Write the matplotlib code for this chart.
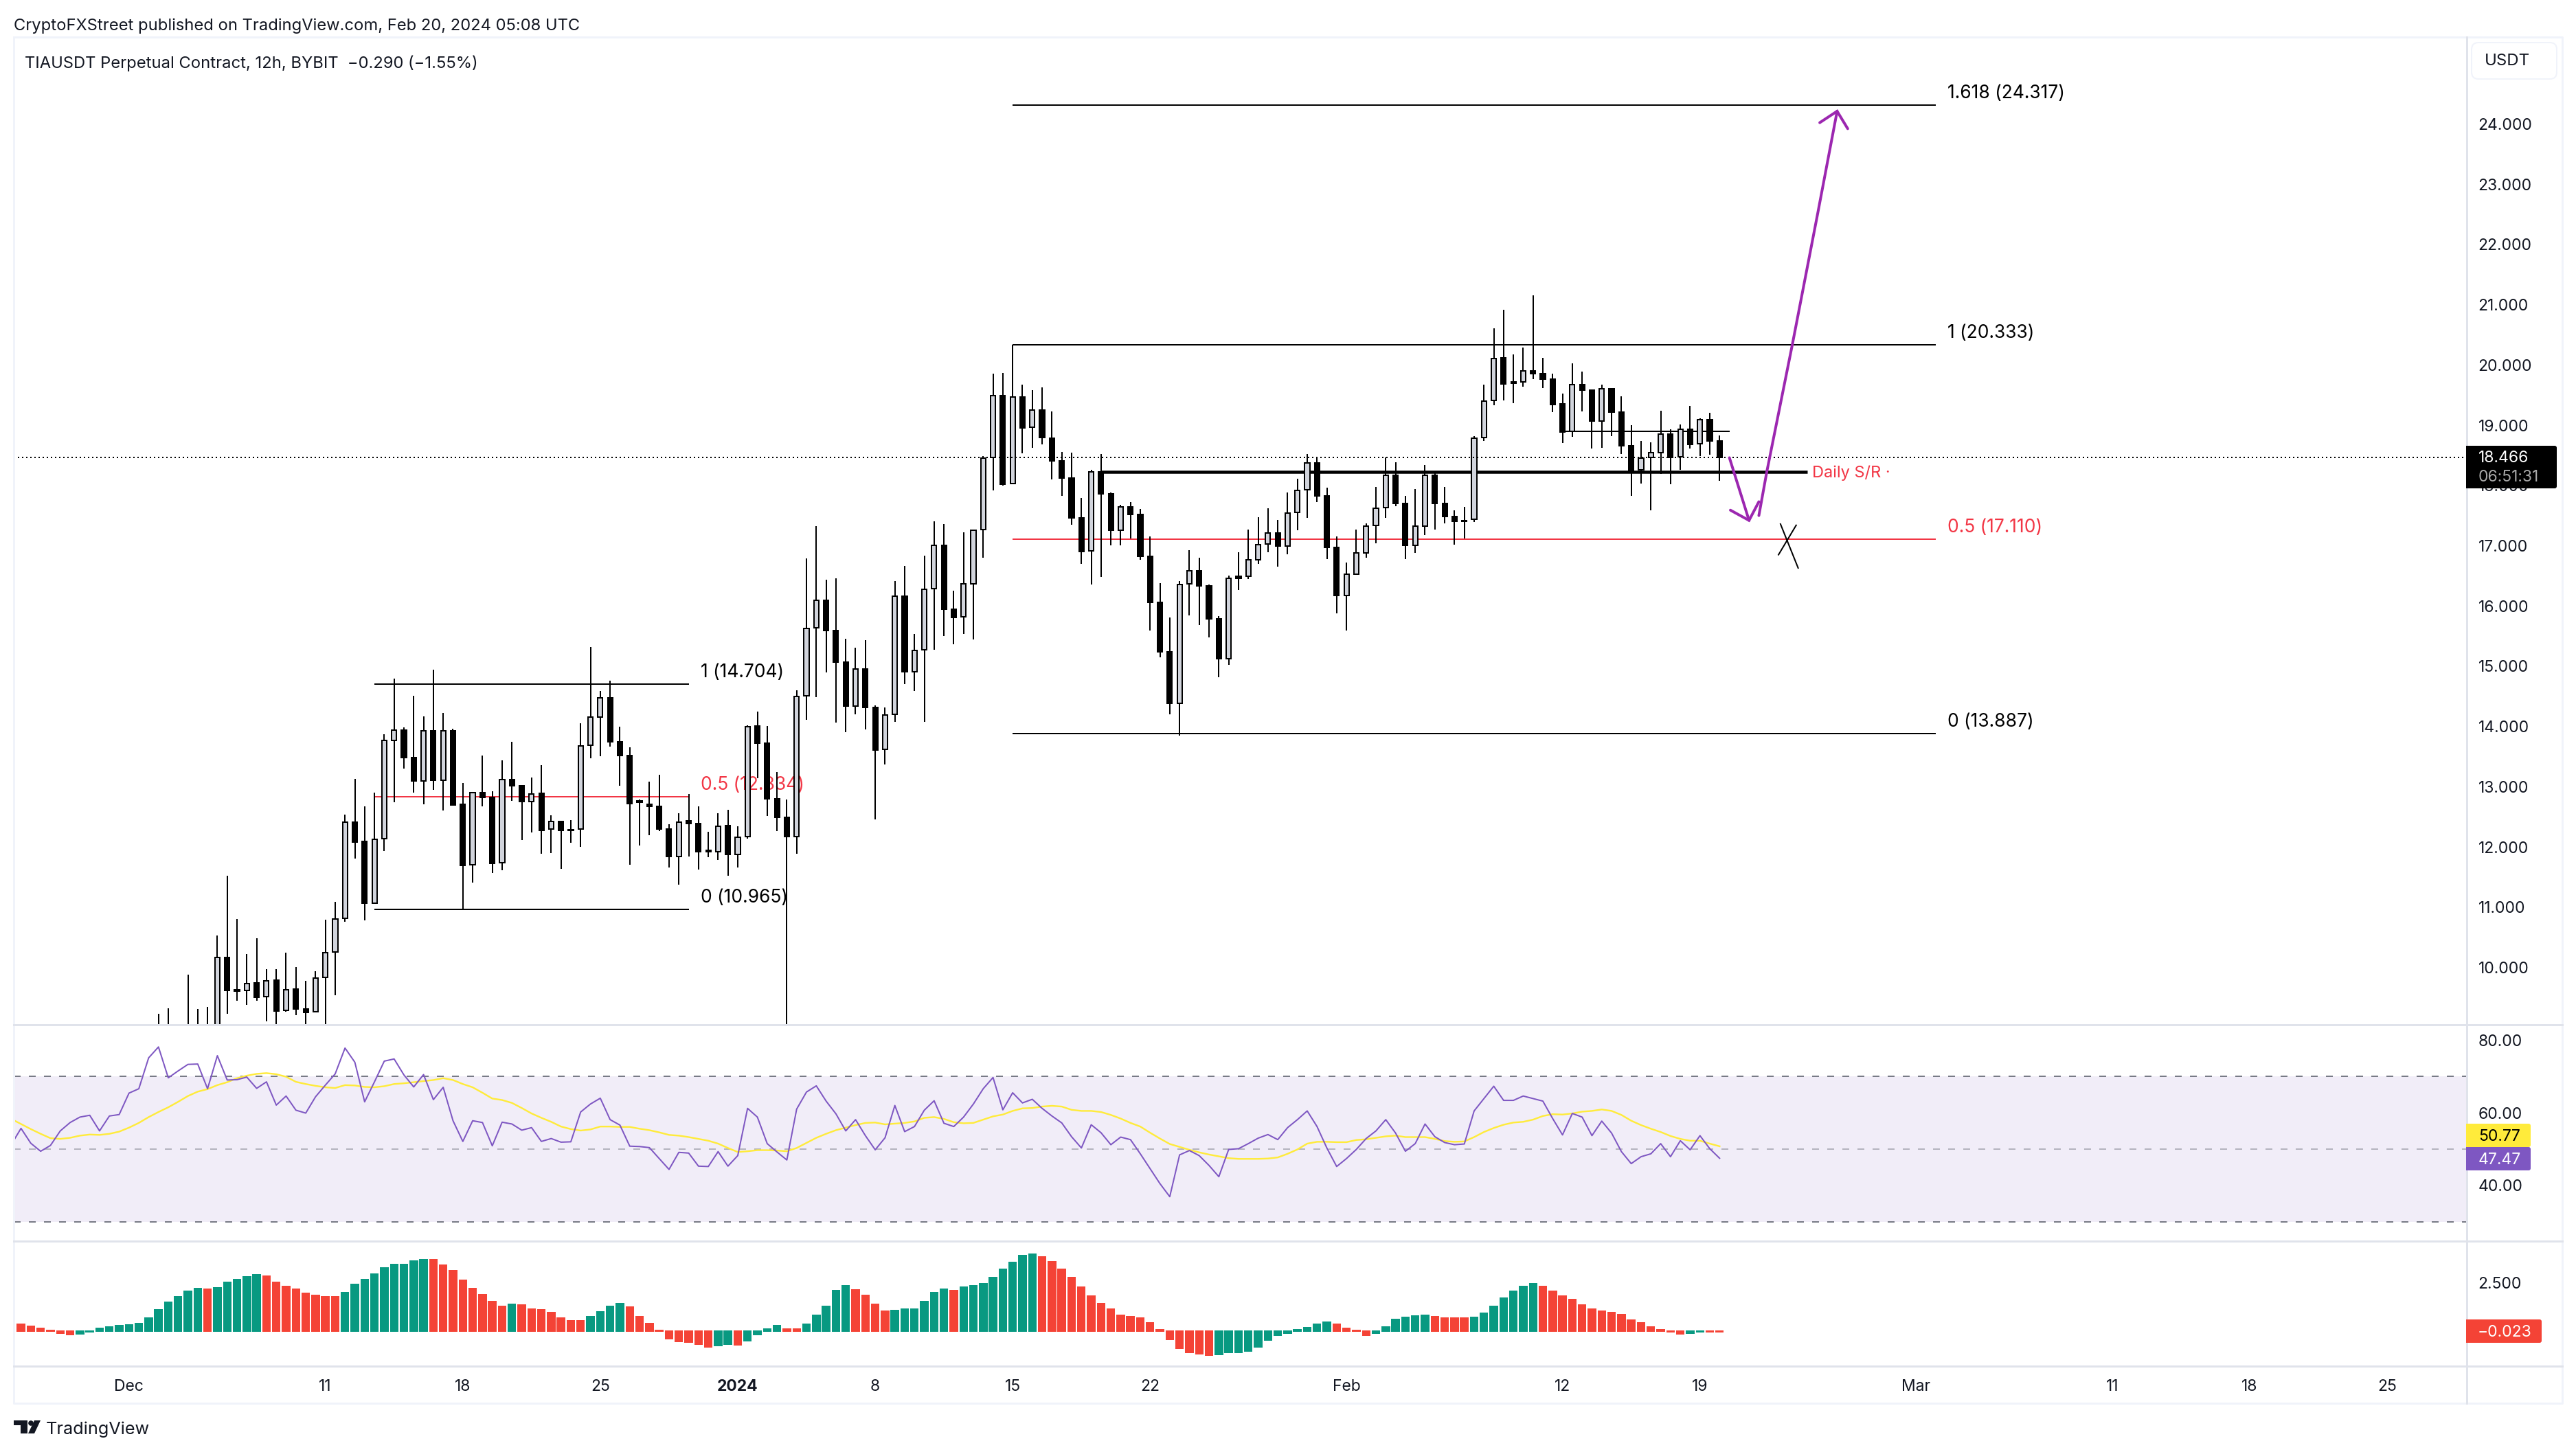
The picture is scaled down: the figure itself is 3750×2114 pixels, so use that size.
import numpy as np
import matplotlib
matplotlib.use("Agg")
import matplotlib.pyplot as plt
from matplotlib.patches import FancyBboxPatch, Polygon, Circle

# ---------- candles (12h bars, bar 0 is the first one whose wick shows) ----------
opens = [8.60,8.75,8.90,8.70,8.85,8.80,8.95,10.165,9.63,9.624,9.741,9.516,9.787,9.286,9.638,9.317,9.263,9.836,10.256,10.815,
12.411,12.091,11.067,12.141,13.774,13.941,13.485,13.097,13.932,13.111,13.932,12.714,11.703,12.908,12.827,11.735,13.115,13.016,12.754,12.89,
12.294,12.428,12.29,12.30,13.691,14.157,14.477,13.744,13.516,12.75,12.71,12.67,12.294,11.846,12.43,12.388,11.93,11.922,12.352,11.875,
12.178,14.006,13.72,12.80,12.492,12.178,14.506,15.635,16.095,15.595,15.071,14.343,14.954,14.314,13.616,14.198,16.165,14.914,15.269,16.293,
17.009,15.944,15.816,16.369,17.265,18.464,19.495,18.028,19.465,18.965,19.256,18.784,18.412,18.127,17.463,16.91,18.225,17.862,17.26,17.649,
17.522,16.823,16.059,15.238,14.386,16.365,16.587,16.334,15.788,15.125,16.496,16.496,16.771,17.024,17.212,16.998,17.548,17.924,18.378,17.828,
16.972,16.177,16.531,16.884,17.334,17.627,18.172,17.705,17.011,17.33,18.172,17.705,17.487,17.42,17.435,18.793,19.41,20.113,19.71,19.715,
19.903,19.851,19.768,19.353,18.894,19.676,19.576,19.073,19.61,19.222,18.663,18.257,18.462,18.549,18.855,18.475,18.934,18.694,19.095,18.741]
highs = [9.231,9.322,9.00,9.881,9.312,9.348,10.535,11.527,10.80,10.219,10.481,9.971,9.971,10.247,10.007,9.777,9.94,10.792,11.09,12.542,
13.133,12.678,12.908,13.873,14.798,13.99,14.509,14.171,14.937,14.229,13.963,13.061,12.899,13.517,12.926,13.435,13.747,13.02,13.151,13.359,
12.527,12.44,12.452,14.058,15.315,14.588,14.762,14.0,13.65,12.79,13.08,13.196,12.38,12.556,12.876,12.673,12.254,12.556,12.615,12.34,
14.023,14.244,14.012,13.243,12.79,14.605,16.788,17.323,16.433,16.456,15.455,15.304,15.437,14.349,14.314,16.41,16.66,15.531,16.84,17.399,
17.358,16.258,17.224,17.271,18.493,19.855,19.861,20.33,19.669,19.582,19.628,19.227,18.552,18.54,17.789,18.26,18.518,17.88,17.679,17.727,
17.614,17.155,16.374,15.81,16.413,16.928,16.806,16.36,15.828,16.50,16.897,17.264,17.478,17.618,17.422,17.88,18.116,18.518,18.47,17.959,
17.155,16.723,17.264,17.365,17.972,18.47,18.382,17.823,17.945,18.334,18.208,17.98,17.583,17.64,18.823,19.67,20.602,20.916,20.178,20.283,
21.156,20.121,19.851,19.523,20.025,19.89,19.576,19.676,19.61,19.484,19.004,18.737,18.711,19.244,18.929,19.017,19.318,19.117,19.20,18.825]
lows = [8.40,8.50,8.55,8.60,8.70,8.60,8.70,9.232,9.444,9.376,9.444,9.11,8.90,9.27,9.204,8.95,9.263,8.90,9.543,10.756,
11.812,10.779,11.06,11.938,12.741,13.3,12.908,12.705,12.953,12.601,12.691,10.959,11.406,12.669,11.564,11.609,12.763,12.114,12.236,11.893,
11.904,11.642,12.067,11.997,13.47,13.505,13.662,13.016,11.7,12.02,12.195,12.265,11.66,11.38,11.84,11.625,11.83,11.782,11.52,11.66,
12.137,13.138,12.515,12.265,8.90,11.887,14.11,14.489,14.896,14.07,13.907,14.198,13.953,12.463,13.371,14.081,14.698,14.593,14.081,15.269,
15.496,15.362,15.53,15.449,16.805,17.92,17.998,18.028,18.528,18.621,18.68,18.103,17.83,17.352,16.70,16.357,16.478,17.002,17.002,17.116,
16.766,15.592,15.146,14.207,13.85,15.841,15.683,15.474,14.814,15.02,16.26,16.448,16.697,16.897,16.657,16.854,17.251,17.461,17.723,16.775,
15.876,15.592,16.513,16.801,17.042,17.461,17.657,16.775,16.88,17.177,17.269,17.369,17.015,17.116,17.395,18.74,19.327,19.414,19.366,19.641,
19.768,19.619,19.217,18.702,18.807,19.226,18.615,18.624,18.82,18.523,17.829,18.034,17.589,18.191,18.021,18.257,18.615,18.484,18.506,18.078]
closes = [8.75,8.90,8.70,8.85,8.80,8.95,10.165,9.624,9.61,9.737,9.511,9.782,9.281,9.633,9.317,9.259,9.827,10.251,10.81,12.407,
12.087,11.063,12.132,13.765,13.936,13.48,13.093,13.923,13.106,13.923,12.70,11.699,12.899,12.818,11.726,13.115,13.011,12.75,12.885,12.281,
12.422,12.271,12.27,13.68,14.151,14.471,13.744,13.516,12.719,12.74,12.67,12.294,11.84,12.417,12.39,11.922,11.92,12.347,11.875,12.166,
14.0,13.72,12.80,12.492,12.178,14.494,15.624,16.09,15.595,15.071,14.337,14.949,14.314,13.604,14.186,16.159,14.908,15.257,16.281,17.003,
15.944,15.81,16.363,17.254,18.453,19.489,18.016,19.465,18.959,19.25,18.796,18.412,18.127,17.463,16.904,18.22,17.862,17.256,17.644,17.518,
16.823,16.059,15.238,14.382,16.356,16.583,16.33,15.784,15.12,16.456,16.456,16.766,17.015,17.207,16.994,17.539,17.915,18.373,17.828,16.972,
16.173,16.526,16.88,17.321,17.618,18.168,17.701,17.007,17.321,18.168,17.701,17.483,17.404,17.40,18.784,19.40,20.108,19.689,19.70,19.903,
19.851,19.768,19.344,18.89,19.672,19.576,19.069,19.606,19.222,18.659,18.23,18.458,18.541,18.851,18.462,18.934,18.685,19.091,18.741,18.466]

# ---------- RSI panel ----------
rsi = [51.2,55.7,51.6,49.4,51.0,55.0,57.3,58.8,59.3,55.0,59.1,59.5,65.4,66.6,75.1,
78.1,69.6,71.5,73.3,73.4,66.6,75.7,69.0,69.1,69.8,66.7,68.5,62.1,64.6,60.7,59.9,64.4,67.6,70.7,77.8,73.9,63.0,68.5,74.2,74.8,
70.4,67.1,70.5,63.6,67.0,57.8,52.1,57.8,57.3,50.9,57.4,56.9,55.2,55.9,52.1,52.9,51.9,52.0,60.2,62.4,64.0,58.1,56.6,50.8,50.7,
50.4,47.4,44.4,49.1,48.9,45.3,45.2,49.3,45.3,48.2,61.2,58.8,51.5,49.2,47.0,61.0,65.7,67.4,63.2,59.7,55.0,58.1,53.7,49.8,53.1,
62.0,54.8,56.2,60.7,63.3,57.1,56.2,58.8,62.4,66.6,69.7,60.8,65.5,62.7,63.7,61.2,59.1,57.2,53.4,50.3,56.7,54.5,51.2,53.3,52.6,
48.7,44.6,40.5,36.9,48.4,49.6,48.2,45.5,42.4,49.9,50.1,51.5,53.0,54.0,52.6,55.9,58.1,60.5,56.2,50.3,45.2,47.4,49.9,52.9,55.0,
58.1,54.4,49.4,51.5,56.9,53.4,51.8,51.2,51.4,60.5,63.9,67.3,63.4,63.4,64.6,63.9,63.2,58.4,53.9,59.8,58.8,53.7,57.7,54.4,49.3,
46.0,47.9,48.7,51.5,47.9,52.3,49.8,53.7,50.1,47.47]
rsi_ma = [58.3,56.9,55.5,54.2,53.0,52.8,53.1,53.7,54.0,53.9,54.2,54.8,55.9,57.2,58.8,
60.2,61.5,63.0,64.6,65.8,66.5,67.6,68.4,69.5,70.2,70.7,70.9,70.6,69.9,68.5,67.9,67.4,67.0,66.8,67.6,67.5,67.1,67.0,67.3,67.9,
68.1,68.4,68.7,69.0,69.5,69.0,67.9,67.0,65.5,63.9,63.5,62.7,61.3,59.8,58.6,57.5,56.2,55.5,55.1,55.4,56.2,56.2,56.1,56.1,55.6,
55.2,54.6,53.9,53.7,53.3,52.8,52.3,51.5,50.3,49.2,49.4,49.7,49.7,49.6,49.4,50.3,51.7,53.1,54.2,55.2,55.9,56.6,57.2,57.3,56.8,
57.0,57.2,57.6,58.6,58.8,58.3,57.4,57.1,57.2,58.1,59.0,59.5,60.5,61.2,61.3,61.7,61.9,61.7,60.8,60.5,60.5,60.2,59.4,58.4,57.2,
56.2,54.5,52.9,51.4,50.6,49.8,49.1,48.5,48.0,47.5,47.3,47.3,47.3,47.4,47.7,48.7,49.9,51.5,52.0,52.0,51.9,51.9,52.5,52.7,53.1,
53.5,53.7,53.3,53.3,53.3,52.8,52.2,52.0,52.1,53.3,54.7,55.8,56.7,57.3,57.5,58.1,59.1,59.6,59.5,59.8,60.3,60.5,60.9,60.5,59.4,
57.8,56.6,55.6,54.7,53.6,52.8,52.3,52.3,51.5,50.77]
rsi_levels = [70, 50, 30]

# ---------- MACD histogram panel ----------
macd_hist = [.53,.36,.25,.14,.04,-.11,-.18,-.14,-.04,.14,.21,.28,.32,.39,.68,
1.10,1.49,1.78,2.06,2.20,2.17,2.24,2.52,2.67,2.81,2.91,2.84,2.52,2.31,2.17,1.95,1.85,1.78,1.78,1.99,2.42,2.67,2.95,3.27,3.45,
3.45,3.63,3.70,3.70,3.41,3.13,2.63,2.20,1.88,1.53,1.28,1.39,1.35,1.14,1.10,.96,.68,.53,.53,.75,1.00,1.28,1.42,1.24,.75,
.39,.04,-.39,-.53,-.57,-.68,-.82,-.75,-.68,-.71,-.50,-.18,.11,.28,.11,.11,.36,.82,1.28,2.10,2.35,2.13,1.85,1.39,1.03,
1.07,1.14,1.14,1.53,1.99,2.17,2.10,2.27,2.35,2.45,2.77,3.20,3.55,3.91,3.98,3.84,3.59,3.20,2.77,2.27,1.81,1.42,1.14,.82,.75,
.68,.43,.07,-.43,-.89,-1.10,-1.17,-1.24,-1.21,-1.10,-1.10,-1.03,-.82,-.46,-.21,-.11,.07,.18,.36,.46,.36,.14,.04,-.21,-.11,
.21,.60,.71,.78,.82,.75,.68,.68,.68,.71,.92,1.28,1.71,2.06,2.31,2.45,2.31,2.06,1.81,1.64,1.35,1.14,1.03,.96,.85,.57,
.43,.21,.07,-.04,-.14,-.11,-.04,-.023,-.023]
# alternating run lengths of bars, starting with a falling run
macd_dir_runs = [7,13,1,5,8,9,8,1,7,4,9,2,1,4,2,5,4,6,1,8,18,12,4,6,4,7,15,2,2]

# ---------- axes labels ----------
price_ticks = [10,11,12,13,14,15,16,17,18,19,20,21,22,23,24]
rsi_ticks = [40, 60, 80]
macd_ticks = [2.5]
time_tick_bars = [-3,17,31,45,59,73,87,101,121,143,157,179,199,213,227]
time_tick_labels = ["Dec","11","18","25","2024","8","15","22","Feb","12","19","Mar","11","18","25"]

# ---------- drawings ----------
fib_left = {"start": 22, "end": 54, "levels": [(1, 14.704), (0.5, 12.834), (0, 10.965)]}
fib_right = {"start": 87, "end": 181.04, "levels": [(1.618, 24.317), (1, 20.333), (0.5, 17.110), (0, 13.887)]}
sr_level, sr_start, sr_end = 18.225, 96, 167.9
range_level, range_start, range_end = 18.899, 143, 160
last_price = 18.466
arrow_down_bar = [160.0, 162.0]; arrow_down_price = [18.46, 17.42]
head_down_bar = [160.1, 162.0, 163.0]; head_down_price = [17.59, 17.42, 17.73]
arrow_up_bar = [163.0, 163.8, 166.4, 169.0, 170.97]; arrow_up_price = [17.5, 18.22, 20.33, 22.52, 24.21]
head_up_bar = [169.2, 170.97, 172.05]; head_up_price = [24.02, 24.21, 23.92]
cross_a_bar = [165.2, 167.0]; cross_a_price = [17.36, 16.63]
cross_b_bar = [166.8, 165.0]; cross_b_price = [17.34, 16.85]

W, H = 3750, 2114
DPI = 100
px = 72 / DPI
INK = "#131722"
FRAME = "#f0f3fa"
SEP = "#e0e3eb"
RED = "#f23645"
plt.rcParams["font.family"] = ["Inter", "DejaVu Sans"]
FS = 16.5
FS_FIB = 19
FS_HEAD = 17.1

fig = plt.figure(figsize=(W / DPI, H / DPI), dpi=DPI, facecolor="white")

def pane(l, t, r, b):
    a = fig.add_axes([l / W, 1 - b / H, (r - l) / W, (b - t) / H])
    for s in a.spines.values():
        s.set_visible(False)
    a.set_xlim(-14.74, 235.1)
    a.set_xticks([])
    a.yaxis.tick_right()
    a.tick_params(axis="y", length=0, pad=12, labelsize=FS, labelcolor=INK)
    a.patch.set_alpha(0)
    return a

ax = pane(20, 54, 3591, 1492)
ax_rsi = pane(20, 1492, 3591, 1807)
ax_macd = pane(20, 1807, 3591, 1989)
ax.set_ylim(9.05, 25.44)
ax_rsi.set_ylim(24.67, 84.2)
ax_macd.set_ylim(-1.81, 4.66)

# main pane
o, h, l, c = map(np.array, (opens, highs, lows, closes))
bars = np.arange(len(o))
up = c >= o
ax.vlines(bars, l, h, color="black", lw=2 * px, zorder=4)
bottoms = np.minimum(o, c)
heights = np.maximum(np.abs(c - o), 0.02)
ax.bar(bars[up], heights[up], bottom=bottoms[up], width=0.5, facecolor="#d1d4dc",
       edgecolor="black", linewidth=2 * px, zorder=5)
ax.bar(bars[~up], heights[~up], bottom=bottoms[~up], width=0.5, facecolor="black",
       edgecolor="black", linewidth=2 * px, zorder=5)

def fib(a, spec, xtext):
    for lev, val in spec["levels"]:
        col = RED if lev == 0.5 else "black"
        a.hlines(val, spec["start"], spec["end"], color=col, lw=2 * px, zorder=2)
        a.annotate(f"{lev:g} ({val:.3f})", xy=(xtext, val), xytext=(0, 17 * px),
                   textcoords="offset points", color=col, fontsize=FS_FIB, va="center", ha="left", zorder=3)

fib(ax, fib_left, 55.2)
fib(ax, fib_right, 182.2)
ax.hlines(sr_level, sr_start, sr_end, color="black", lw=4.5 * px, zorder=2)
ax.hlines(range_level, range_start, range_end, color="black", lw=2 * px, zorder=3)
ax.annotate("Daily S/R", xy=(sr_end, sr_level), xytext=(7 * px, -2 * px), textcoords="offset points",
            color=RED, fontsize=17, va="center", ha="left", zorder=3)
ax.annotate("\u00b7", xy=(sr_end, sr_level), xytext=(114 * px, -2 * px), textcoords="offset points",
            color=RED, fontsize=FS, va="center", ha="left", zorder=3)
ax.axhline(last_price, color="black", lw=2 * px, linestyle=(0, (1, 2)), zorder=6)

PUR = "#9c27b0"
for bx, by in ((arrow_down_bar, arrow_down_price), (head_down_bar, head_down_price),
               (arrow_up_bar, arrow_up_price), (head_up_bar, head_up_price)):
    ax.plot(bx, by, color=PUR, lw=4 * px, solid_capstyle="round", solid_joinstyle="miter", zorder=7)
for bx, by in ((cross_a_bar, cross_a_price), (cross_b_bar, cross_b_price)):
    ax.plot(bx, by, color="black", lw=2 * px, zorder=7)

ax.set_yticks(price_ticks)
ax.set_yticklabels([f"{t:.3f}" for t in price_ticks])

# RSI pane
xr = np.arange(160 - len(rsi), 160)
xm = np.arange(160 - len(rsi_ma), 160)
ax_rsi.axhspan(rsi_levels[2], rsi_levels[0], color="#7e57c2", alpha=0.1, lw=0, zorder=1)
for lev, al in zip(rsi_levels, (1, 0.5, 1)):
    ax_rsi.axhline(lev, color="#787b86", alpha=al, lw=2 * px, linestyle=(0, (5, 6)), zorder=2)
ax_rsi.plot(xm, rsi_ma, color="#ffeb3b", lw=2.4 * px, zorder=3)
ax_rsi.plot(xr, rsi, color="#7e57c2", lw=2 * px, zorder=4)
ax_rsi.set_yticks(rsi_ticks)
ax_rsi.set_yticklabels([f"{t:.2f}" for t in rsi_ticks])

# MACD pane
xh = np.arange(160 - len(macd_hist), 160)
flags = [i % 2 for i in range(len(macd_dir_runs))]
rising = np.repeat(flags, macd_dir_runs)[-len(macd_hist):].astype(bool)
vals = np.array(macd_hist)
ax_macd.bar(xh[rising], vals[rising], width=0.728, color="#089981", edgecolor="#089981", lw=2 * px)
ax_macd.bar(xh[~rising], vals[~rising], width=0.728, color="#f44336", edgecolor="#f44336", lw=2 * px)
ax_macd.set_yticks(macd_ticks)
ax_macd.set_yticklabels([f"{t:.3f}" for t in macd_ticks])
ax_macd.set_xticks(time_tick_bars)
ax_macd.set_xticklabels(time_tick_labels)
ax_macd.tick_params(axis="x", length=0, pad=13.5, labelsize=FS, labelcolor=INK)
ax_macd.get_xticklabels()[4].set_fontweight("bold")

# page furniture drawn in a pixel-space overlay
ui = fig.add_axes([0, 0, 1, 1], zorder=20)
ui.set_xlim(0, W); ui.set_ylim(H, 0); ui.axis("off")
ui.patch.set_alpha(0)
ui.plot([19.5, 3730, 3730, 19.5, 19.5], [54, 54, 2043, 2043, 54], color=FRAME, lw=3 * px)
ui.plot([3591, 3591], [54, 2043], color=SEP, lw=3 * px)
for y in (1492, 1807, 1989):
    ui.plot([20, 3730], [y, y], color=SEP, lw=3 * px)

def tag(x0, x1, y0, y1, col):
    ui.add_patch(FancyBboxPatch((x0 + 3, y0 + 3), x1 - x0 - 6, y1 - y0 - 6,
                                boxstyle="round,pad=3,rounding_size=3", fc=col, ec="none", zorder=5))
    ui.fill_between([x0, x0 + 8], y0, y1, color=col, lw=0, zorder=5)

tag(3590, 3722, 649, 711, "#000000")
ui.text(3608, 667, "18.466", color="white", fontsize=FS, va="center", ha="left", zorder=6)
ui.text(3608, 695, "06:51:31", color="#a9a9a9", fontsize=FS, va="center", ha="left", zorder=6)
tag(3590, 3684, 1636, 1670, "#ffeb3b")
ui.text(3608, 1655, "50.77", color="black", fontsize=FS, va="center", ha="left", zorder=6)
tag(3590, 3684, 1670, 1704, "#7e57c2")
ui.text(3608, 1689, "47.47", color="white", fontsize=FS, va="center", ha="left", zorder=6)
tag(3590, 3700, 1921, 1955, "#f44336")
ui.text(3607, 1940, "\u22120.023", color="white", fontsize=FS, va="center", ha="left", zorder=6)

ui.add_patch(FancyBboxPatch((3606, 70), 108, 37, boxstyle="round,pad=8,rounding_size=10",
                            fc="white", ec=FRAME, lw=2 * px, zorder=5))
ui.text(3617, 89, "USDT", color=INK, fontsize=17.3, va="center", ha="left", zorder=6)
ui.text(20, 38, "CryptoFXStreet published on TradingView.com, Feb 20, 2024 05:08 UTC",
        color=INK, fontsize=FS_HEAD, va="center", ha="left")
ui.text(36, 92, "TIAUSDT Perpetual Contract, 12h, BYBIT  \u22120.290 (\u22121.55%)",
        color=INK, fontsize=FS_HEAD, va="center", ha="left")

# TradingView wordmark
ui.add_patch(Polygon([(20, 2068), (40, 2068), (40, 2087), (30, 2087), (30, 2075), (20, 2075)], fc=INK, ec="none"))
ui.add_patch(Circle((45, 2072), 3.8, fc=INK, ec="none"))
ui.add_patch(Polygon([(50, 2068), (59, 2068), (50, 2087), (41, 2087)], fc=INK, ec="none"))
ui.text(67, 2081, "TradingView", color=INK, fontsize=18.2, va="center", ha="left")

fig.savefig("out.png", dpi=DPI, facecolor="white")
